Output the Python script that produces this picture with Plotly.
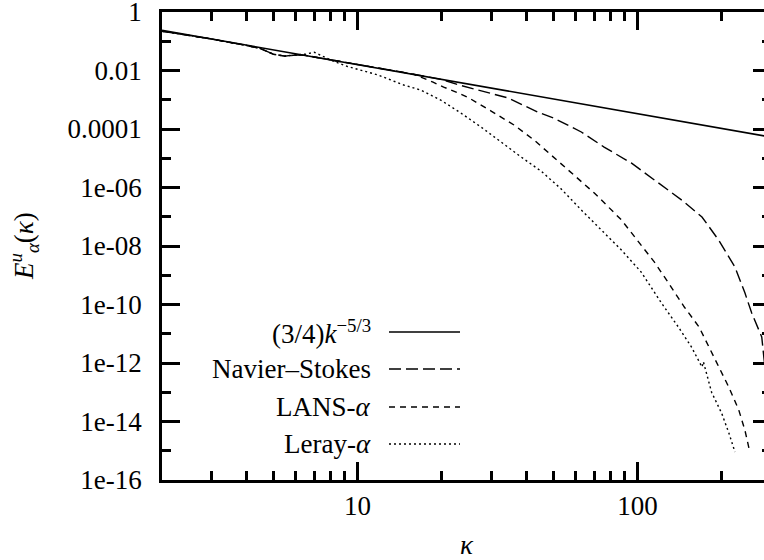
import plotly.graph_objects as go

# ---------------- data ----------------
law_k = [2, 300]
law_E = [0.236, 5.3e-5]

ns_k = [2, 3, 4, 4.5, 5, 5.5, 6, 6.5, 7, 8, 9, 10, 11, 12, 13, 14, 15, 16, 18, 20,
        23, 27, 34.5, 44, 50, 63, 76, 95, 115, 144, 170, 195, 223, 242, 256, 278, 283, 300]
ns_E = [0.22, 0.12, 0.072, 0.056, 0.036, 0.031, 0.034, 0.033, 0.029, 0.023, 0.019, 0.016,
        0.0138, 0.0118, 0.0104, 0.0093, 0.0083, 0.0074, 0.0060, 0.0049,
        0.0032, 0.0021, 1.15e-3, 3.8e-4, 2.4e-4, 7.9e-5, 2.4e-5, 6.9e-6, 1.8e-6, 3.7e-7,
        9.8e-8, 1.6e-8, 1.9e-9, 2.5e-10, 5.1e-11, 7.8e-12, 1.5e-12, 1e-14]

lans_k = [2, 3, 4, 4.5, 5, 5.5, 6, 6.5, 7, 8, 9, 10, 11, 12, 13, 14, 15, 16, 18.6, 20.3,
          22.6, 25, 30, 36.2, 42.7, 50, 59.4, 70.1, 87.6, 100, 115, 129, 147, 166, 180,
          195, 212, 230, 242, 252]
lans_E = [0.22, 0.12, 0.072, 0.056, 0.036, 0.031, 0.034, 0.033, 0.029, 0.023, 0.019, 0.016,
          0.0138, 0.0118, 0.0104, 0.0093, 0.0082, 0.0072, 0.0040, 0.0027,
          0.0018, 1.15e-3, 4.1e-4, 1.37e-4, 4.2e-5, 1.1e-5, 2.7e-6, 6.5e-7, 7.8e-8, 1.6e-8,
          2.8e-9, 5.5e-10, 8.2e-11, 1.7e-11, 3.5e-12, 7.2e-13, 1.5e-13, 2.5e-14, 5.1e-15, 9.1e-16]

ler_k = [2, 3, 4, 4.5, 5, 5.5, 6, 6.5, 7, 7.5, 8, 9.2, 11.8, 14.6, 16.8, 19.8, 23.4, 27.6,
         32.5, 38.4, 45.3, 53.4, 63, 74.3, 87.6, 103, 122, 140, 156, 170, 172, 184, 200, 212, 223]
ler_E = [0.22, 0.12, 0.072, 0.056, 0.036, 0.031, 0.034, 0.036, 0.042, 0.031, 0.023, 0.0137,
         0.0071, 0.0032, 0.00215, 9.8e-4, 3.5e-4, 1.17e-4, 3.6e-5, 1.1e-5, 3.6e-6, 8.9e-7,
         1.7e-7, 3.5e-8, 7.3e-9, 1.3e-9, 1.1e-10, 1.7e-11, 3.5e-12, 7.3e-13, 1.1e-12,
         1.0e-13, 1.9e-14, 4.1e-15, 9.1e-16]

series_names = ["(3/4)<i>k</i><sup>−5/3</sup>", "Navier–Stokes", "LANS-<i>α</i>", "Leray-<i>α</i>"]
series_dash = ["solid", "12px,5px", "6px,5px", "2px,3px"]

y_tickvals = [1, 1e-2, 1e-4, 1e-6, 1e-8, 1e-10, 1e-12, 1e-14, 1e-16]
y_ticktext = ["1", "0.01", "0.0001", "1e-06", "1e-08", "1e-10", "1e-12", "1e-14", "1e-16"]
y_minor = [1e-1, 1e-3, 1e-5, 1e-7, 1e-9, 1e-11, 1e-13, 1e-15]
x_tickvals = [10, 100]
x_ticktext = ["10", "100"]
x_minor = [3, 4, 5, 6, 7, 8, 9, 20, 30, 40, 50, 60, 70, 80, 90, 200]

# ---------------- figure ----------------
FONT = "Liberation Serif, Times New Roman, serif"
fig = go.Figure()
data = [(law_k, law_E), (ns_k, ns_E), (lans_k, lans_E), (ler_k, ler_E)]
for (kk, ee), name, dash in zip(data, series_names, series_dash):
    fig.add_trace(go.Scatter(x=kk, y=ee, mode="lines", name=name, showlegend=False,
                             line=dict(color="black", width=1.4 if dash != "solid" else 1.6,
                                       dash=dash)))

W, H = 772, 560
L, R, T, B = 162, 1, 12, 80
pw, ph = W - L - R, H - T - B


def px(xp):
    return (xp - L) / pw


def py(yp):
    return (H - B - yp) / ph


# manual legend (text on the left, sample on the right)
rows = [332, 369, 407, 444]
for name, dash, yr in zip(series_names, series_dash, rows):
    fig.add_annotation(x=px(373), y=py(yr), xref="paper", yref="paper", text=name,
                       showarrow=False, xanchor="right", yanchor="middle",
                       font=dict(family=FONT, size=27, color="black"))
    fig.add_shape(type="line", xref="paper", yref="paper", x0=px(389), x1=px(460),
                  y0=py(yr), y1=py(yr),
                  line=dict(color="black", width=1.4, dash=dash))

# axis titles
fig.add_annotation(x=px(24), y=0.5, xref="paper", yref="paper",
                   text="<i>E</i><sup><i>u</i></sup><sub><i>α</i></sub>(<i>κ</i>)",
                   textangle=-90, showarrow=False, xanchor="center", yanchor="middle",
                   font=dict(family=FONT, size=27, color="black"))
fig.add_annotation(x=0.5, y=py(545), xref="paper", yref="paper", text="<i>κ</i>",
                   showarrow=False, xanchor="center", yanchor="middle",
                   font=dict(family=FONT, size=27, color="black"))

axis_common = dict(showgrid=False, zeroline=False, showline=True, linecolor="black",
                   linewidth=2.5, ticks="inside", ticklen=18, tickwidth=2.5,
                   tickcolor="black", mirror="allticks", ticklabeloverflow="allow",
                   tickfont=dict(family=FONT, size=27, color="black"))

fig.update_xaxes(type="log", range=[0.30103, 2.47712], tickmode="array",
                 tickvals=x_tickvals, ticktext=x_ticktext, ticklabelstandoff=0,
                 minor=dict(tickmode="array", tickvals=x_minor, ticks="inside",
                            ticklen=9, tickwidth=2.5, tickcolor="black", showgrid=False),
                 **axis_common)
fig.update_yaxes(type="log", range=[-16, 0], tickmode="array",
                 tickvals=y_tickvals, ticktext=y_ticktext, ticklabelstandoff=12,
                 minor=dict(tickmode="array", tickvals=y_minor, ticks="inside",
                            ticklen=9, tickwidth=2.5, tickcolor="black", showgrid=False),
                 **axis_common)

fig.update_layout(width=W, height=H, margin=dict(l=L, r=R, t=T, b=B, autoexpand=False),
                  paper_bgcolor="white", plot_bgcolor="white", showlegend=False,
                  font=dict(family=FONT, size=27, color="black"))

fig.write_html("out.html", config={"displayModeBar": False},
               post_script="document.body.style.margin='0';document.body.style.overflow='hidden';")
